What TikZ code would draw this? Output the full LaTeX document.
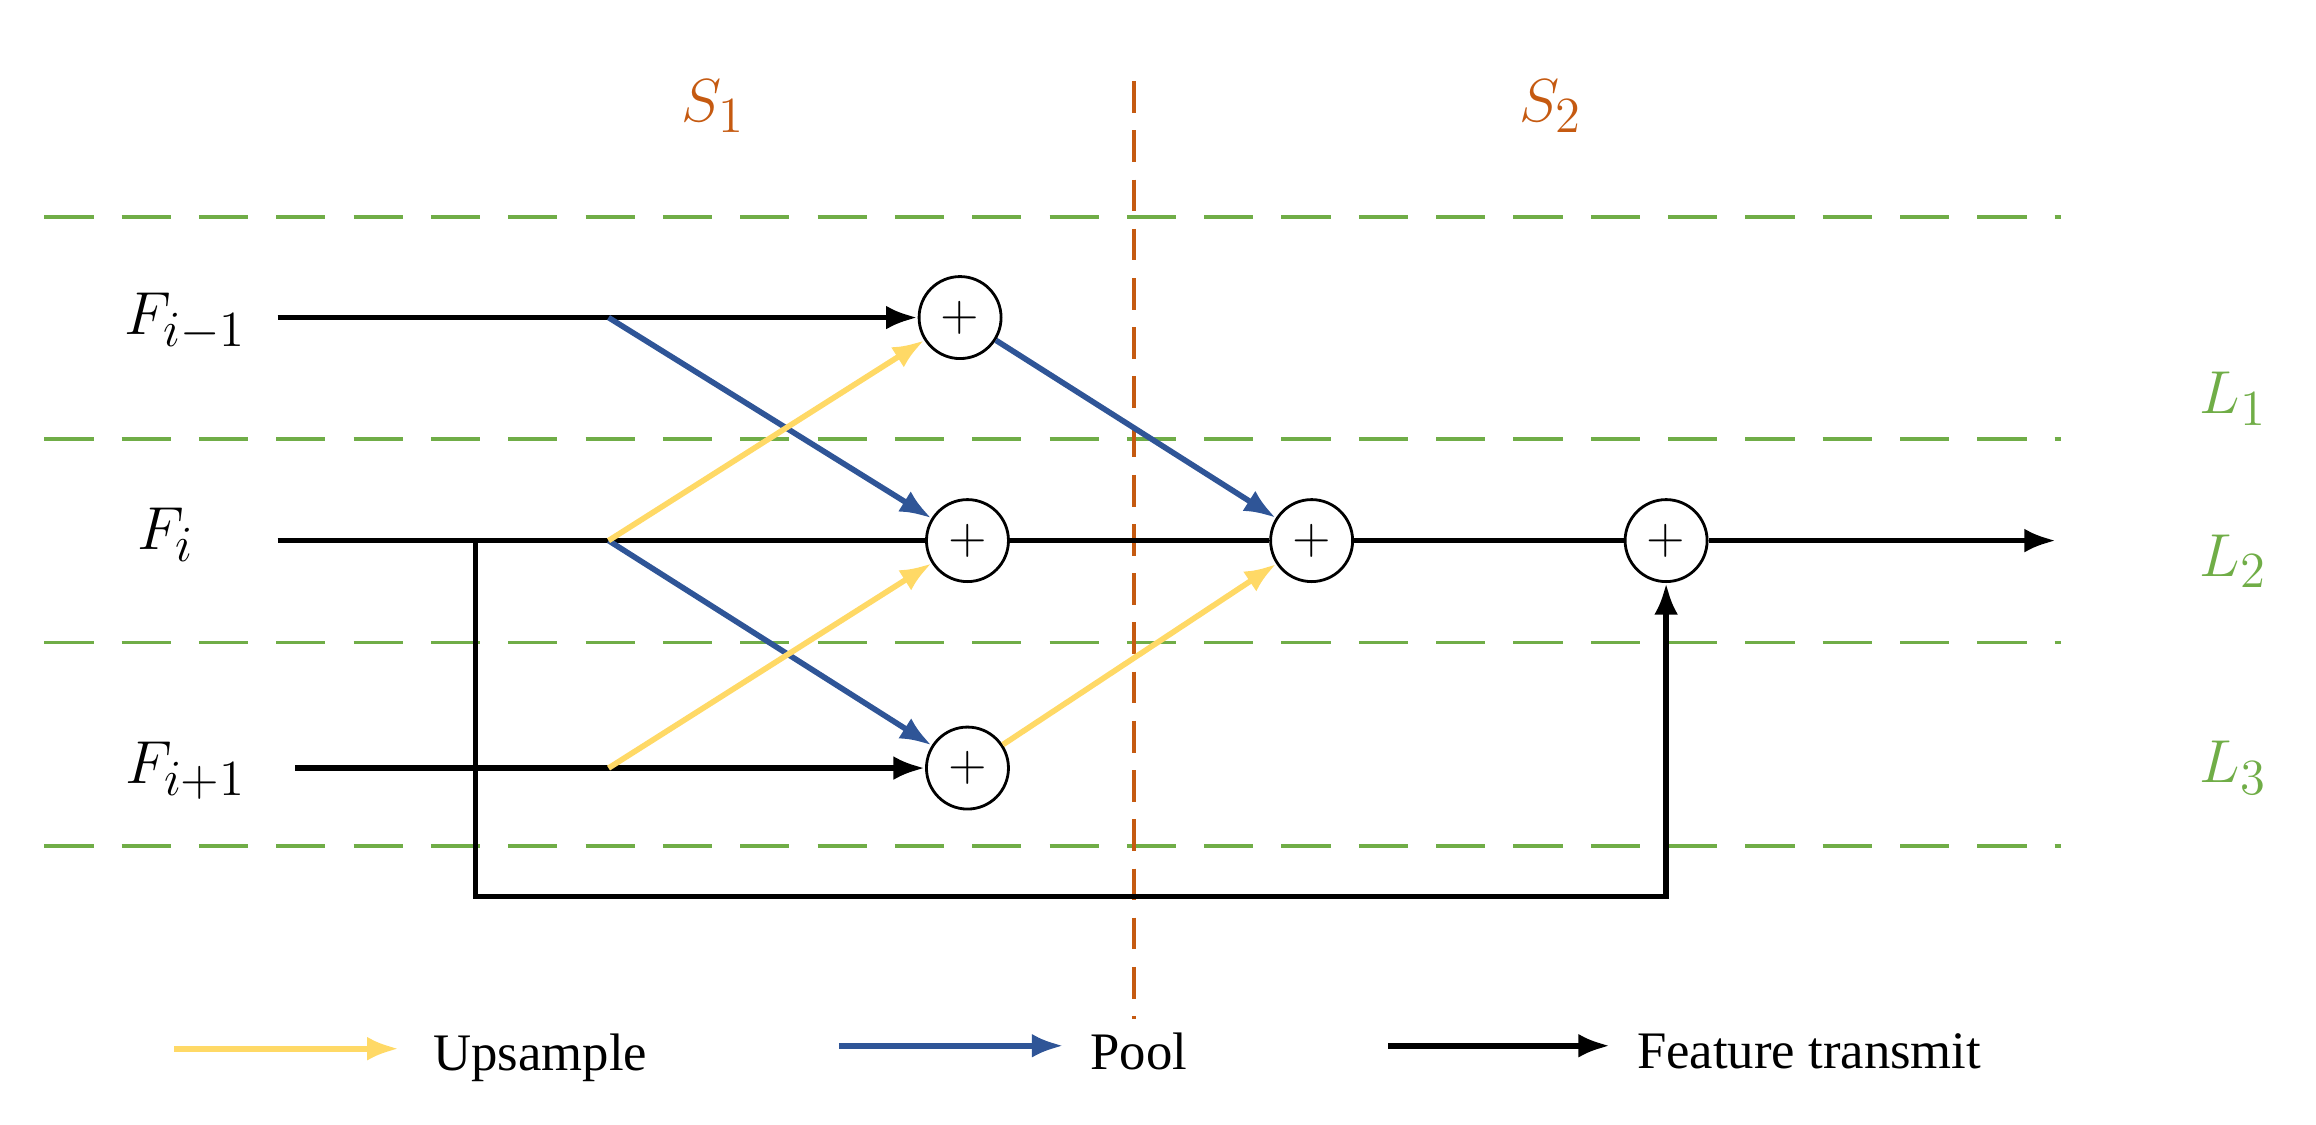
\documentclass[tikz,border=0pt]{standalone}
\usepackage{fontspec}
\setmainfont{Liberation Serif}
\usetikzlibrary{arrows.meta}
\definecolor{upyellow}{RGB}{255,217,102}
\definecolor{poolblue}{RGB}{47,85,151}
\definecolor{layergreen}{RGB}{112,173,71}
\definecolor{stageorange}{RGB}{197,90,17}
\tikzset{
    sum/.style={circle, draw, thick, fill=white, minimum size=0.82cm, inner sep=0pt, font=\Large},
    upsample/.style={upyellow, line width=1.6pt, -{Latex[length=9pt]}},
    pool/.style={poolblue, line width=1.6pt, -{Latex[length=9pt]}},
    transmit/.style={black, line width=1.6pt, -{Latex[length=9pt]}},
    layer/.style={layergreen, line width=1.1pt, dash pattern=on 14pt off 8pt},
    lbl/.style={font=\fontsize{19}{22}\selectfont}
}
\begin{document}
\begin{tikzpicture}[x=0.01477cm, y=-0.01477cm]
    \useasboundingbox (0,0) rectangle (1568,761);

    % Layer boundaries and stage split
    \foreach \yy in {147,297,435,573}
        \draw[layer] (30,\yy) -- (1395,\yy);
    \draw[stageorange, line width=1.1pt, dash pattern=on 9pt off 5pt] (768,55) -- (768,690);
    \node[lbl, stageorange] (s1) at (483,72) {$S_1$};
    \node[lbl, stageorange] (s2) at (1050,72) {$S_2$};
    \node[lbl, layergreen] (l1) at (1512,270) {$L_1$};
    \node[lbl, layergreen] (l2) at (1512,380) {$L_2$};
    \node[lbl, layergreen] (l3) at (1512,520) {$L_3$};

    % Inputs
    \node[lbl, anchor=east] (fa) at (175,218) {$F_{i-1}$};
    \node[lbl, anchor=east] (fb) at (140,362) {$F_{i}$};
    \node[lbl, anchor=east] (fc) at (175,522) {$F_{i+1}$};
    \coordinate (ia) at (188,215);
    \coordinate (ib) at (188,366);
    \coordinate (ic) at (200,520);
    \coordinate (pa) at (412,215);
    \coordinate (pb) at (412,366);
    \coordinate (pc) at (412,520);
    \coordinate (out) at (1392,366);
    \coordinate (tap) at (322,366);

    % Fusion nodes
    \node[sum] (a1) at (650,215) {$+$};
    \node[sum] (a2) at (655,366) {$+$};
    \node[sum] (a3) at (655,520) {$+$};
    \node[sum] (b2) at (888,366) {$+$};
    \node[sum] (c2) at (1128,366) {$+$};

    % Feature transmit
    \draw[transmit] (ia) -- (a1);
    \draw[transmit] (ic) -- (a3);
    \draw[line width=1.6pt] (ib) -- (a2) -- (b2) -- (c2);
    \draw[transmit] (c2) -- (out);
    \draw[transmit] (tap) |- (1128,607) -- (c2);

    % Cross-layer paths
    \draw[pool] (pa) -- (a2);
    \draw[pool] (pb) -- (a3);
    \draw[pool] (a1) -- (b2);
    \draw[upsample] (pb) -- (a1);
    \draw[upsample] (pc) -- (a2);
    \draw[upsample] (a3) -- (b2);

    % Legend
    \coordinate (ua) at (118,710);
    \coordinate (ub) at (270,710);
    \coordinate (pla) at (568,708);
    \coordinate (plb) at (720,708);
    \coordinate (ta) at (940,708);
    \coordinate (tb) at (1090,708);
    \draw[upsample] (ua) -- (ub);
    \draw[pool] (pla) -- (plb);
    \draw[transmit] (ta) -- (tb);
    \node[font=\fontsize{15}{18}\selectfont, anchor=west] (ut) at (285,716) {Upsample};
    \node[font=\fontsize{15}{18}\selectfont, anchor=west] (pt) at (730,712) {Pool};
    \node[font=\fontsize{15}{18}\selectfont, anchor=west] (tt) at (1100,712) {Feature transmit};
\end{tikzpicture}
\end{document}
